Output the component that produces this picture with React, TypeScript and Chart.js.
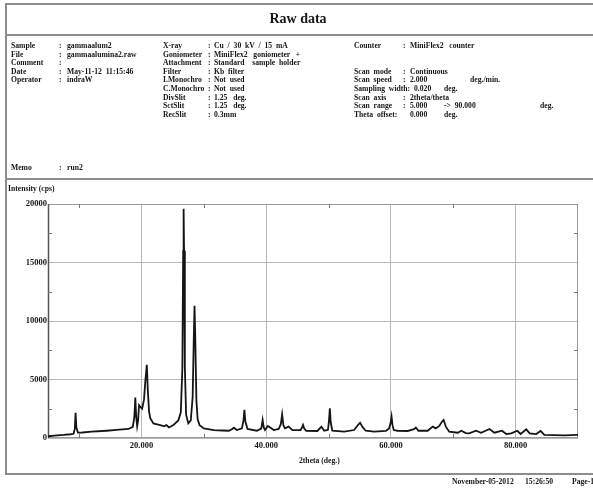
import React, { useEffect, useRef } from "react";
import { Chart, registerables } from "chart.js";

Chart.register(...registerables);

// ---- data ----
const twoTheta = [
  5.0, 6.0, 7.5, 8.6, 9.1, 9.3, 9.42, 9.55, 9.8, 10.5, 12.0, 14.4, 16.0, 17.9, 18.6, 18.85, 19.0, 19.15,
  19.3, 19.45, 19.6, 19.8, 20.1, 20.4, 20.6, 20.85, 21.0, 21.2, 21.4, 21.9, 23.0, 23.6, 24.0, 24.4, 25.1,
  25.9, 26.3, 26.55, 26.68, 26.75, 26.82, 26.95, 27.15, 27.5, 27.9, 28.2, 28.38, 28.5, 28.62, 28.8, 29.0,
  29.3, 30.0, 31.6, 33.0, 34.0, 34.5, 34.8, 35.3, 36.1, 36.35, 36.5, 36.65, 37.0, 38.5, 39.2, 39.42, 39.6,
  39.8, 40.25, 40.7, 41.2, 42.0, 42.35, 42.55, 42.75, 43.0, 43.6, 44.2, 45.5, 45.75, 45.9, 46.1, 46.4,
  48.2, 48.85, 49.3, 49.9, 50.05, 50.2, 50.35, 50.6, 52.5, 54.1, 54.7, 55.05, 55.4, 55.95, 57.3, 59.2,
  59.7, 59.95, 60.1, 60.25, 60.45, 61.05, 62.7, 63.7, 64.0, 64.4, 65.9, 66.7, 67.2, 67.75, 68.2, 68.45,
  68.8, 69.35, 70.7, 71.3, 72.0, 72.55, 73.65, 74.45, 75.8, 76.6, 77.8, 78.5, 79.3, 80.25, 80.8, 81.7,
  82.25, 83.3, 84.0, 84.6, 87.8, 90.0,
];
const intensity = [
  150, 200, 260, 320, 360, 800, 2150, 900, 460, 470, 540, 620, 690, 770, 950, 1800, 3450, 1800,
  1000, 1500, 2800, 2650, 2500, 3300, 4800, 6250, 4200, 2300, 1700, 1250, 1100, 1000, 1100, 900, 1100,
  1500, 2200, 6000, 16000, 19600, 16000, 6000, 2000, 1250, 1500, 3500, 8500, 11300, 8500, 3200, 1600,
  1100, 820, 680, 640, 620, 750, 880, 680, 820, 1500, 2400, 1400, 770, 620, 800, 1540, 900,
  680, 1030, 880, 680, 770, 1200, 2020, 1100, 820, 970, 680, 680, 900, 1110, 800, 620,
  600, 970, 620, 700, 1400, 2540, 1300, 620, 540, 680, 1110, 1310, 970, 620, 540, 600,
  820, 1300, 1820, 1100, 680, 620, 600, 750, 900, 620, 620, 970, 820, 1030, 1400, 1540,
  970, 540, 450, 620, 420, 400, 620, 450, 770, 450, 620, 340, 400, 620, 340, 740,
  400, 340, 600, 260, 230, 260,
];
const xMin = 5;
const xMax = 90;
const yMin = 0;
const yMax = 20000;
const yStep = 5000;
const xMajorTicks = [20, 40, 60, 80];
const xMinorTicks = [10, 30, 50, 70];
const yMinorTicks = [2500, 7500, 12500, 17500];

// ---- header text ----
const reportTitle = "Raw data";
const leftLabels = ["Sample", "File", "Comment", "Date", "Operator"];
const leftValues = ["gammaalum2", "gammaalumina2.raw", "", "May-11-12  11:15:46", "indraW"];
const midLabels = ["X-ray", "Goniometer", "Attachment", "Filter", "I.Monochro", "C.Monochro", "DivSlit", "SctSlit", "RecSlit"];
const midValues = [
  "Cu  /  30  kV  /  15  mA",
  "MiniFlex2   goniometer   +",
  "Standard    sample  holder",
  "Kb  filter",
  "Not  used",
  "Not  used",
  "1.25   deg.",
  "1.25   deg.",
  "0.3mm",
];
const counterLabel = "Counter";
const counterValue = "MiniFlex2   counter";
// right-hand scan block: label and value pieces
const scanLabels = ["Scan  mode", "Scan  speed", "Sampling  width:", "Scan  axis", "Scan  range", "Theta  offset:"];
const scanValues = [
  ["Continuous"],
  ["2.000", "deg./min."],
  ["0.020", "deg."],
  ["2theta/theta"],
  ["5.000", "->  90.000", "deg."],
  ["0.000", "deg."],
];
const memoLabel = "Memo";
const memoValue = "run2";
const yAxisTitle = "Intensity (cps)";
const xAxisTitle = "2theta (deg.)";
const footerDate = "November-05-2012";
const footerTime = "15:26:50";
const footerPage = "Page-1";

const FONT = "'Liberation Serif', 'Times New Roman', serif";
const INK = "#151515";
const BORDER = "#8c8c8c";

function Txt(props: { x: number; y: number; s: string; size?: number; squeeze?: number }) {
  const size = props.size ?? 8.5;
  const squeeze = props.squeeze ?? 0.9;
  return (
    <div
      style={{
        position: "absolute",
        left: props.x,
        top: props.y - 6,
        height: 12,
        lineHeight: "12px",
        fontSize: size,
        fontWeight: "bold",
        fontFamily: FONT,
        whiteSpace: "pre",
        color: INK,
        transform: `scaleX(${squeeze})`,
        transformOrigin: "0 50%",
      }}
    >
      {props.s}
    </div>
  );
}

function Line(props: { x: number; y: number; w: number; h: number }) {
  return (
    <div
      style={{
        position: "absolute",
        left: props.x,
        top: props.y,
        width: props.w,
        height: props.h,
        background: BORDER,
      }}
    />
  );
}

export default function App() {
  const canvasRef = useRef<HTMLCanvasElement | null>(null);

  useEffect(() => {
    const canvas = canvasRef.current;
    if (!canvas) return;
    const tickFont = { family: FONT, size: 8.5, weight: "bold" as const };

    const framePlugin = {
      id: "frameAndMinor",
      beforeDatasetsDraw(chart: any) {
        const { ctx, chartArea, scales } = chart;
        const { left, right, top, bottom } = chartArea;
        ctx.save();
        ctx.strokeStyle = "#9a9a9a";
        ctx.lineWidth = 1;
        ctx.strokeRect(left + 0.5, top + 0.5, right - left - 1, bottom - top - 1);
        ctx.strokeStyle = "#555";
        ctx.lineWidth = 1.5;
        ctx.beginPath();
        ctx.moveTo(left + 0.5, top);
        ctx.lineTo(left + 0.5, bottom);
        ctx.stroke();
        ctx.strokeStyle = "#777";
        ctx.lineWidth = 1;
        ctx.beginPath();
        for (const v of xMinorTicks) {
          const px = Math.round(scales.x.getPixelForValue(v)) + 0.5;
          ctx.moveTo(px, top);
          ctx.lineTo(px, top + 4);
          ctx.moveTo(px, bottom);
          ctx.lineTo(px, bottom - 4);
        }
        for (const v of yMinorTicks) {
          const py = Math.round(scales.y.getPixelForValue(v)) + 0.5;
          ctx.moveTo(left, py);
          ctx.lineTo(left + 4, py);
          ctx.moveTo(right, py);
          ctx.lineTo(right - 4, py);
        }
        ctx.stroke();
        ctx.restore();
      },
    };

    const chart = new Chart(canvas, {
      type: "line",
      data: {
        datasets: [
          {
            data: twoTheta.map((t, i) => ({ x: t, y: intensity[i] })),
            borderColor: INK,
            borderWidth: 1.8,
            pointRadius: 0,
            tension: 0,
            fill: false,
          },
        ],
      },
      options: {
        responsive: false,
        animation: false,
        layout: { padding: { top: 204, right: 15, bottom: 30, left: 0 } },
        plugins: { legend: { display: false }, tooltip: { enabled: false } },
        scales: {
          x: {
            type: "linear",
            min: xMin,
            max: xMax,
            afterBuildTicks: (s: any) => {
              s.ticks = xMajorTicks.map((v) => ({ value: v }));
            },
            afterFit: (s: any) => {
              s.height = 20;
            },
            grid: { color: "#b8b8b8", drawTicks: false },
            border: { display: false },
            ticks: {
              padding: 3,
              font: tickFont,
              color: INK,
              maxRotation: 0,
              autoSkip: false,
              callback: (v: any) => Number(v).toFixed(3),
            },
          },
          y: {
            min: yMin,
            max: yMax,
            afterFit: (s: any) => {
              s.width = 48;
            },
            grid: { color: "#b8b8b8", drawTicks: false },
            border: { display: false },
            ticks: {
              stepSize: yStep,
              padding: 1,
              font: tickFont,
              color: INK,
              callback: (v: any) => String(v),
            },
          },
        },
      },
      plugins: [framePlugin],
    });
    return () => chart.destroy();
  }, []);

  const row = (i: number) => 45 + i * 8.6;
  const scanValueX = [[410], [410, 470], [414, 444], [410], [410, 444, 540], [410, 444]];

  return (
    <div style={{ position: "absolute", left: 0, top: 0, width: 593, height: 488, background: "#fff", overflow: "hidden" }}>
      <canvas ref={canvasRef} width={593} height={488} style={{ position: "absolute", left: 0, top: 0, display: "block" }} />
      {/* frame */}
      <Line x={5} y={3} w={588} h={2} />
      <Line x={5} y={3} w={2} h={472} />
      <Line x={5} y={34} w={588} h={2} />
      <Line x={5} y={178} w={588} h={2} />
      <Line x={5} y={473} w={588} h={2} />
      {/* title */}
      <div
        style={{
          position: "absolute",
          left: 0,
          width: 596,
          top: 10,
          textAlign: "center",
          fontFamily: FONT,
          fontWeight: "bold",
          fontSize: 14,
          lineHeight: "18px",
          color: INK,
        }}
      >
        {reportTitle}
      </div>
      {/* left column */}
      {leftLabels.map((l, i) => (
        <React.Fragment key={"l" + i}>
          <Txt x={11} y={row(i)} s={l} />
          <Txt x={59} y={row(i)} s=":" />
          <Txt x={67} y={row(i)} s={leftValues[i]} />
        </React.Fragment>
      ))}
      {/* middle column */}
      {midLabels.map((l, i) => (
        <React.Fragment key={"m" + i}>
          <Txt x={163} y={row(i)} s={l} />
          <Txt x={208} y={row(i)} s=":" />
          <Txt x={214} y={row(i)} s={midValues[i]} />
        </React.Fragment>
      ))}
      {/* right column */}
      <Txt x={354} y={row(0)} s={counterLabel} />
      <Txt x={403} y={row(0)} s=":" />
      <Txt x={410} y={row(0)} s={counterValue} />
      {scanLabels.map((l, i) => (
        <React.Fragment key={"s" + i}>
          <Txt x={354} y={row(i + 3)} s={l} />
          {l.endsWith(":") ? null : <Txt x={403} y={row(i + 3)} s=":" />}
          {scanValues[i].map((v, j) => (
            <Txt key={j} x={scanValueX[i][j]} y={row(i + 3)} s={v} />
          ))}
        </React.Fragment>
      ))}
      {/* memo */}
      <Txt x={11} y={167} s={memoLabel} />
      <Txt x={59} y={167} s=":" />
      <Txt x={67} y={167} s={memoValue} />
      {/* axis titles */}
      <Txt x={8} y={188} s={yAxisTitle} />
      <Txt x={299} y={460} s={xAxisTitle} />
      {/* footer */}
      <Txt x={452} y={481} s={footerDate} />
      <Txt x={525} y={481} s={footerTime} />
      <Txt x={572} y={481} s={footerPage} />
    </div>
  );
}
